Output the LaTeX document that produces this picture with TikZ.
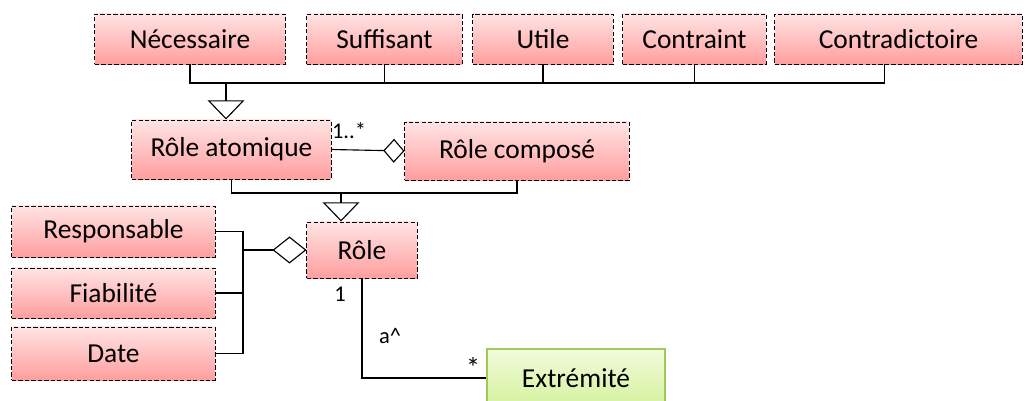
\documentclass[tikz,border=0pt]{standalone}
\usepackage{fontspec}
\setmainfont{Carlito}
\usetikzlibrary{arrows.meta}

\definecolor{pinktop}{RGB}{255,228,228}
\definecolor{pinkbot}{RGB}{255,158,158}
\definecolor{greentop}{RGB}{242,251,218}
\definecolor{greenbot}{RGB}{212,242,158}
\definecolor{greenline}{RGB}{160,200,90}

\begin{document}
\begin{tikzpicture}[
x=0.025cm, y=-0.025cm,
classbox/.style={draw, dash pattern=on 3pt off 1.6pt, line width=0.7pt, top color=pinktop, bottom color=pinkbot, align=center, minimum height=1.25cm, inner sep=0pt, font=\fontsize{19.5}{21}\selectfont},
endbox/.style={draw=greenline, line width=0.9pt, top color=greentop, bottom color=greenbot, align=center, minimum width=4.45cm, minimum height=1.45cm, inner sep=0pt, font=\fontsize{19.5}{21}\selectfont},
mult/.style={inner sep=0pt, font=\fontsize{16}{18}\selectfont},
link/.style={line width=0.8pt},
gen/.style={line width=1.8pt, -{Triangle[open, length=0.48cm, width=0.92cm, line width=0.8pt]}},
agg/.style={line width=0.8pt, -{Diamond[open, length=0.53cm, width=0.6cm, line width=0.8pt]}}
]
\useasboundingbox (0,0) rectangle (1028,401);

% top row
\node[classbox, minimum width=4.75cm] (nec) at (190,39) {Nécessaire};
\node[classbox, minimum width=3.875cm] (suf) at (384.5,39) {Suffisant};
\node[classbox, minimum width=3.5cm] (uti) at (543,39) {Utile};
\node[classbox, minimum width=3.575cm] (con) at (694.5,39) {Contraint};
\node[classbox, minimum width=6.175cm] (cdi) at (898.5,39) {Contradictoire};

\node[classbox, minimum width=4.975cm, minimum height=1.475cm] (atom) at (231.5,149.5) {Rôle atomique};
\node[classbox, minimum width=5.6cm, minimum height=1.45cm] (comp) at (517,151) {Rôle composé};
\node[classbox, minimum width=2.75cm, minimum height=1.4cm] (role) at (362,250) {Rôle};

\node[classbox, minimum width=5.075cm, minimum height=1.275cm] (resp) at (113.5,231.5) {Responsable};
\node[classbox, minimum width=5.075cm] (fia) at (113.5,293) {Fiabilité};
\node[classbox, minimum width=5.075cm, minimum height=1.325cm] (date) at (113.5,353.5) {Date};

\node[endbox] (ext) at (576,378) {Extrémité};

\coordinate (bus1) at (226,83);
\coordinate (bus2) at (341,193);
\coordinate (join) at (243,250);

% generalisation 1
\draw[link] (nec.south) -- (nec.south |- bus1) -- ([xshift=-0.35cm]cdi.south |- bus1) -- ([xshift=-0.35cm]cdi.south);
\draw[link] (suf.south) -- (suf.south |- bus1);
\draw[link] (uti.south) -- (uti.south |- bus1);
\draw[link] (con.south) -- (con.south |- bus1);
\draw[gen] (bus1) -- (bus1 |- atom.north);

% generalisation 2
\draw[link] (atom.south) -- (atom.south |- bus2) -- (comp.south |- bus2) -- (comp.south);
\draw[gen] (bus2) -- (bus2 |- role.north);

% aggregations
\draw[agg] (atom.east) -- (comp.west);
\node[mult] (m1) at (349,131) {1..*};

\draw[link] (resp.east) -| (join) |- (date.east);
\draw[link] (fia.east) -- (fia.east -| join);
\draw[line width=1.6pt, -{Diamond[open, length=0.85cm, width=0.675cm, line width=0.8pt]}] (join) -- (role.west);

% association
\draw[link] (role.south) |- (ext.west);
\node[mult] (m2) at (340,294) {1};
\node[mult] (m3) at (390,336) {a\^{}};
\node[mult, font=\fontsize{20}{22}\selectfont] (m4) at (473,368) {*};
\end{tikzpicture}
\end{document}
